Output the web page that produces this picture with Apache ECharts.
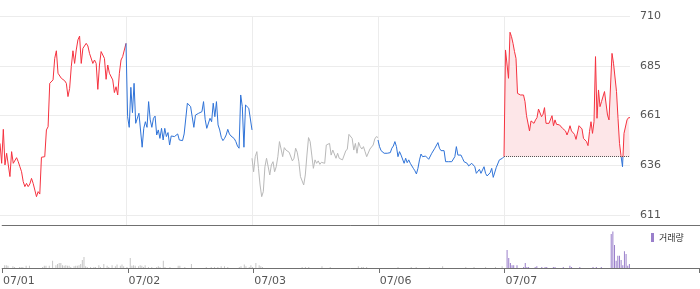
<!DOCTYPE html>
<html><head><meta charset="utf-8">
<script src="https://cdn.jsdelivr.net/npm/echarts@6/dist/echarts.min.js"></script>
<style>html,body{margin:0;padding:0;background:#fff}#c{width:700px;height:289px}</style>
</head><body><div id="c"></div>
<script>
// ---- data ----
const dates = ['07/01','07/02','07/03','07/06','07/07'];
const priceTicks = ['611','636','661','685','710'];
const prevClose = 640;
const volumeName = '거래량';

const p0701 = [646.6,636.7,653.6,635.9,641.7,640.8,630.1,642.5,636.7,637.5,639.5,637.5,635.0,632.5,627.6,625.1,626.7,625.1,626.4,629.2,626.7,623.4,620.1,622.6,621.4,639.7,640.0,640.0,653.3,654.9,676.5,675.7,678.2,688.9,692.7,681.5,680.6,679.0,678.2,677.8,676.5,669.9,674.0,684.8,692.7,686.4,693.1,698.1,700.0,686.4,693.9,694.7,696.4,695.1,691.4,691.1,686.4,688.1,686.4,673.5,685.6,692.3,693.1,688.9,678.5,685.6,681.5,680.6,678.2,671.9,674.8,670.7,681.5,688.1,689.8,690.1,696.4];
const p0702 = [696.4,659.9,654.6,674.5,661.9,676.5,656.6,656.6,661.6,660.7,644.7,654.1,657.4,654.6,667.4,658.3,654.6,659.1,660.2,650.8,653.3,649.1,654.1,648.3,654.1,650.0,652.0,645.8,650.3,650.0,650.0,650.8,651.3,648.3,648.3,648.0,651.3,650.8,666.6,665.7,664.9,664.1,654.6,660.7,659.9,661.6,661.9,662.4,667.4,658.6,654.1,653.6,659.1,657.4,666.6,659.9,667.4,655.8,653.3,649.6,648.0,649.1,650.8,653.6,651.3,650.3,649.6,649.0,647.5,645.3,644.2,670.7,664.9,644.7,665.7,666.6,664.1,663.6,653.3];
const p0703 = [639.2,632.5,640.0,642.5,634.2,625.9,620.1,622.6,635.0,639.2,638.4,630.9,635.9,637.5,632.5,635.0,640.0,647.5,646.6,640.0,644.5,643.3,642.5,642.2,641.7,637.9,639.2,644.2,642.2,637.5,630.1,630.9,625.9,630.9,640.8,649.5,647.5,640.8,634.2,638.4,636.7,637.9,636.2,637.2,637.9,636.7,645.8,646.2,646.6,640.8,643.3,642.5,639.2,641.7,639.2,640.0,638.4,639.2,642.8,643.8,651.1,650.8,649.1,643.3,646.6,641.7,647.1,645.0,643.8,645.0,642.5,640.0,640.0,643.8,644.5,645.8,648.8,650.0,649.5];
const p0706 = [648.3,645.0,643.0,643.3,641.7,641.7,641.7,641.7,642.0,644.2,645.3,647.5,645.0,640.0,642.5,640.8,640.0,636.7,639.2,637.0,638.4,636.7,637.0,634.2,633.0,631.4,634.2,638.4,641.3,640.0,639.2,640.3,640.8,638.7,638.0,641.7,640.8,644.2,643.7,647.0,644.2,643.0,643.0,643.0,637.5,637.5,637.5,637.5,637.5,638.0,640.0,645.0,640.8,640.3,640.8,639.2,637.5,638.0,636.7,635.4,635.9,636.7,637.0,635.0,631.7,631.4,633.7,631.7,631.4,635.0,631.7,630.4,629.7,632.0,634.2,629.7,630.1,634.7,635.0,638.4,639.2,639.2,640.0];
const p0707 = [640.0,693.1,693.1,679.0,701.9,699.7,696.4,692.3,688.9,671.5,672.4,670.7,669.9,670.7,667.4,660.4,659.9,652.8,657.8,657.4,656.6,658.3,659.4,663.7,664.1,659.9,661.1,664.4,656.6,656.6,656.6,655.8,660.4,655.4,658.3,656.1,655.8,655.8,654.9,654.1,653.3,652.8,650.8,652.8,655.4,652.8,652.5,651.1,648.6,648.8,655.4,654.9,653.8,649.1,648.3,647.5,645.5,652.5,657.4,651.6,657.4,689.8,659.1,673.2,664.9,667.4,667.4,672.4,673.2,660.7,658.3,657.4,691.4,686.5,686.5,672.4,659.1,646.6,640.5,635.0,651.6,652.5,658.3,659.4,659.4];

const v0701 = [0,8,8,6,0,0,5,3,0,0, 3,3,3,0,6,0,6,0,0,0, 0,0,0,0,3,6,6,0,6,0, 20,0,8,11,14,14,8,6,8,6, 6,3,0,5,6,6,8,11,22,31, 5,3,0,3,0,3,3,0,8,3, 0,11,0,6,3,0,8,0,5,10, 0,6,10,5,0,3];
const v0702 = [0,28,6,8,6,0,5,8,6,3, 8,0,3,0,3,0,0,3,5,3, 0,20,3,0,0,3,0,0,0,0, 6,6,0,0,3,0,0,0,11,0, 0,0,0,0,0,0,0,3,0,0, 3,0,3,0,3,0,5,0,5,0, 3,0,0,0,0,0,0,3,5,0, 10,5,0,3,8,3];
const v0703 = [0,14,0,8,5,3,0,0,0,0, 0,0,0,0,0,0,0,0,0,0, 0,0,0,0,0,0,0,0,0,3, 0,3,0,3,0,0,0,0,0,0, 0,5,0,0,0,0,3,0,0,0, 0,0,0,0,0,0,0,0,0,0, 0,0,0,5,0,3,3,0,3,0, 0,0,0,0,0,0];
const v0706 = [0,0,0,0,0,0,0,0,0,0, 0,3,0,0,0,0,0,0,0,3, 0,0,3,0,0,0,0,0,0,0, 3,0,0,0,0,0,0,0,5,0, 0,0,0,0,0,0,0,0,0,0, 0,0,3,0,0,0,0,3,0,0, 0,0,0,0,3,0,0,0,0,0, 3,0,0,0,5,0];
const v0707 = [0,50,28,14,8,8,0,8,0,0, 0,3,14,3,3,0,0,0,3,5, 0,0,3,0,3,3,0,0,0,3, 3,0,0,0,0,3,0,0,0,6, 3,0,0,0,0,3,0,0,0,0, 0,0,0,3,0,3,0,0,3,0, 0,0,0,0,95,102,64,20,34,34, 22,8,47,39,6,11];

// ---- styles / layout ----
const RED = '#f5323f', BLUE = '#2f73d8', GRAY = '#b9b9b9';
const pastDayColors = [RED, BLUE, GRAY, BLUE];
const FONT = 'DejaVu Sans';
const DAY_PX = 126;
const VOL_SLOTS = 76;            // volume buckets per day
const EXTRA_SLOTS = 42;          // empty buckets to the right of the price area
const TOTAL_SLOTS = VOL_SLOTS * 5 + EXTRA_SLOTS;

const pastPrices = [p0701, p0702, p0703, p0706];
const pastVolumes = [v0701, v0702, v0703, v0706];

const toXY = (arr, d) => arr.map((v, i) => [d + i / (arr.length - 1), v]);

const series = [];
pastPrices.forEach((arr, d) => {
  series.push({
    type: 'line', xAxisIndex: 0, yAxisIndex: 0, data: toXY(arr, d),
    symbol: 'none', silent: true,
    lineStyle: { width: 1, color: pastDayColors[d] }, itemStyle: { color: pastDayColors[d] }
  });
});
series.push({
  type: 'line', xAxisIndex: 0, yAxisIndex: 0, data: toXY(p0707, 4),
  symbol: 'none', silent: true,
  lineStyle: { width: 1 },
  areaStyle: { color: '#fde6e8', opacity: 1, origin: prevClose },
  markLine: {
    silent: true, symbol: ['none', 'none'], label: { show: false },
    lineStyle: { type: 'dotted', color: '#555', width: 1 },
    data: [[{ coord: [4, prevClose] }, { coord: [5, prevClose] }]]
  }
});

// volume: category axis of time buckets
const volCats = [];
for (let s = 0; s < TOTAL_SLOTS; s++) volCats.push('s' + s);
const pastVol = [], todayVol = [];
pastVolumes.forEach(arr => arr.forEach(v => { pastVol.push(v); todayVol.push(null); }));
v0707.forEach(v => { pastVol.push(null); todayVol.push(v); });
for (let s = 0; s < EXTRA_SLOTS; s++) { pastVol.push(null); todayVol.push(null); }

series.push({
  name: 'past', type: 'bar', xAxisIndex: 2, yAxisIndex: 2, data: pastVol,
  barWidth: 1, barGap: '-100%', itemStyle: { color: '#c6c6c6' }, silent: true
});
series.push({
  name: volumeName, type: 'bar', xAxisIndex: 2, yAxisIndex: 2, data: todayVol,
  barWidth: 1, barGap: '-100%', itemStyle: { color: '#9a7fcb' }, silent: true
});

const isDayStart = idx => idx % VOL_SLOTS === 0 && idx < VOL_SLOTS * 5;

const chart = echarts.init(document.getElementById('c'), null, { renderer: 'canvas' });
chart.setOption({
  animation: false,
  backgroundColor: '#fff',
  textStyle: { fontFamily: FONT },
  grid: [
    { left: 0, width: DAY_PX * 5, top: 16, height: 209 },
    { left: 0, width: DAY_PX * 5, top: 16, height: 199 },
    { left: 0, width: TOTAL_SLOTS * DAY_PX / VOL_SLOTS, top: 225, height: 43 }
  ],
  legend: {
    data: [volumeName], left: 651, top: 233, icon: 'rect', itemWidth: 3, itemHeight: 9,
    padding: 0, selectedMode: false,
    textStyle: { fontSize: 9, color: '#333', fontFamily: 'Noto Sans CJK KR' }
  },
  visualMap: [{
    type: 'piecewise', show: false, seriesIndex: 4, dimension: 1, min: 600, max: 720,
    pieces: [{ gte: 600, lt: prevClose, color: BLUE }, { gte: prevClose, lte: 720, color: RED }]
  }],
  xAxis: [
    { gridIndex: 0, type: 'value', min: 0, max: 5, interval: 1,
      axisLine: { show: false }, axisTick: { show: false }, axisLabel: { show: false },
      splitLine: { show: true, showMinLine: false, showMaxLine: false, lineStyle: { color: '#ececec', width: 1 } } },
    { gridIndex: 1, type: 'value', min: 0, max: 1, show: false },
    { gridIndex: 2, type: 'category', data: volCats, position: 'bottom', boundaryGap: true,
      axisLine: { show: true, onZero: false, lineStyle: { color: '#707070', width: 1 } },
      axisTick: { show: true, interval: isDayStart, length: 5, lineStyle: { color: '#707070' } },
      axisLabel: { interval: isDayStart, formatter: (val, idx) => dates[Math.round(idx / VOL_SLOTS)],
        align: 'left', margin: 8, color: '#555', fontSize: 11, fontFamily: FONT },
      splitLine: { show: false } },
    { gridIndex: 2, type: 'value', min: 0, max: 1, position: 'top',
      axisLine: { show: true, onZero: false, lineStyle: { color: '#707070', width: 1 } },
      axisTick: { show: false }, axisLabel: { show: false }, splitLine: { show: false } }
  ],
  yAxis: [
    { gridIndex: 0, type: 'value', min: 606, max: 710, show: false },
    { gridIndex: 1, type: 'value', position: 'right', min: 0, max: 4, interval: 1,
      axisLine: { show: false }, axisTick: { show: false },
      axisLabel: { formatter: v => priceTicks[v], margin: 10, color: '#555', fontSize: 11, fontFamily: FONT },
      splitLine: { show: true, lineStyle: { color: '#ececec', width: 1 } } },
    { gridIndex: 2, type: 'value', min: 0, max: 120, show: false }
  ],
  series: series
});
</script>
</body></html>
